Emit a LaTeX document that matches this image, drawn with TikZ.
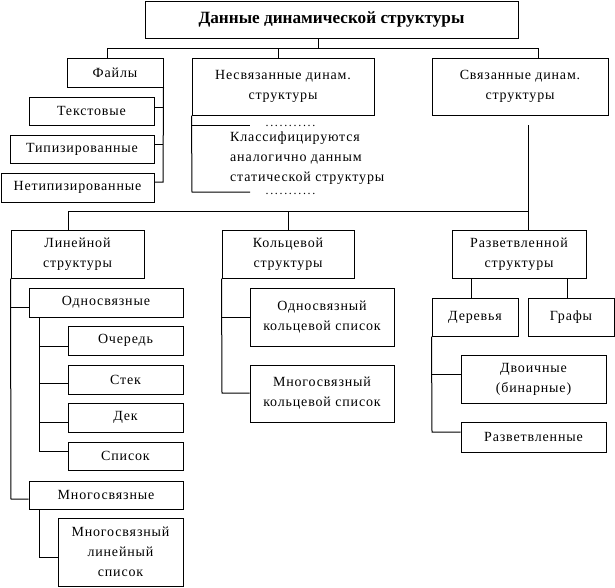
\documentclass[tikz,border=0pt]{standalone}
\usepackage{fontspec}
\setmainfont{Liberation Serif}[LetterSpace=6]
\newfontfamily\titlefont{Liberation Serif}[LetterSpace=0]
\begin{document}
\begin{tikzpicture}[x=1pt,y=-1pt,
  every node/.style={font=\fontsize{14}{20}\selectfont},
  bx/.style={draw,line width=1pt,inner sep=0pt,align=center},
  ln/.style={line width=1pt}]
\useasboundingbox (0,0) rectangle (615,587);
% top
\node[bx,minimum width=373pt,minimum height=37pt,font=\titlefont\fontsize{17.2}{20}\selectfont\bfseries] (top) at (331.5,19.5) {Данные динамической структуры};
\node[bx,minimum width=96pt,minimum height=29pt] (files) at (115,72.5) {Файлы};
\node[bx,minimum width=182pt,minimum height=57pt] (nesv) at (283,86.5) {Несвязанные динам.\\структуры};
\node[bx,minimum width=176pt,minimum height=57pt] (svyaz) at (520,86.5) {Связанные динам.\\структуры};
\node[bx,minimum width=125pt,minimum height=28pt] (txt) at (91.5,111) {Текстовые};
\node[bx,minimum width=144pt,minimum height=28pt] (tipiz) at (82,149) {Типизированные};
\node[bx,minimum width=153pt,minimum height=29pt] (netip) at (77.5,187.5) {Нетипизированные};
% classification text
\node[align=left,inner sep=0pt,anchor=west] (klass) at (230,158) {Классифицируются\\аналогично данным\\статической структуры};
\node[inner sep=0pt,anchor=base,font=\fontsize{12}{14}\selectfont\addfontfeatures{LetterSpace=14}] (dots1) at (290.5,126.5) {...........};
\node[inner sep=0pt,anchor=base,font=\fontsize{12}{14}\selectfont\addfontfeatures{LetterSpace=14}] (dots2) at (290.5,194) {...........};
% second level
\node[bx,minimum width=133pt,minimum height=48pt] (lin) at (77.5,254) {Линейной\\структуры};
\node[bx,minimum width=132pt,minimum height=48pt] (kol) at (288,254) {Кольцевой\\структуры};
\node[bx,minimum width=134pt,minimum height=48pt] (razv) at (519,254) {Разветвленной\\структуры};
\node[bx,minimum width=154pt,minimum height=29pt] (odn) at (106,302.5) {Односвязные};
\node[bx,minimum width=115pt,minimum height=29pt] (och) at (125.5,340.5) {Очередь};
\node[bx,minimum width=115pt,minimum height=29pt] (stek) at (125.5,379.5) {Стек};
\node[bx,minimum width=115pt,minimum height=29pt] (dek) at (125.5,417.5) {Дек};
\node[bx,minimum width=115pt,minimum height=28pt] (spis) at (125.5,456) {Список};
\node[bx,minimum width=154pt,minimum height=28pt] (mnog) at (106,495) {Многосвязные};
\node[bx,minimum width=125pt,minimum height=68pt] (mll) at (120.5,552) {Многосвязный\\линейный\\список};
\node[bx,minimum width=144pt,minimum height=58pt] (okl) at (322,317) {Односвязный\\кольцевой список};
\node[bx,minimum width=144pt,minimum height=57pt] (mkl) at (322,393.5) {Многосвязный\\кольцевой список};
\node[bx,minimum width=86pt,minimum height=38pt] (der) at (475,317) {Деревья};
\node[bx,minimum width=86pt,minimum height=38pt] (graf) at (571,317) {Графы};
\node[bx,minimum width=145pt,minimum height=48pt] (dvo) at (533.5,379) {Двоичные\\(бинарные)};
\node[bx,minimum width=145pt,minimum height=30pt] (razvl) at (533.5,437) {Разветвленные};
% connectors: top level
\coordinate (b1) at (318,48);
\coordinate (b1L) at (107,48);
\coordinate (b1M) at (278,48);
\coordinate (b1R) at (538,48);
\draw[ln] (top.south -| b1) -- (b1);
\draw[ln] (files.north -| b1L) -- (b1L) -- (b1R) -- (b1R |- svyaz.north);
\draw[ln] (b1M) -- (b1M |- nesv.north);
% files
\coordinate (f1) at (163,107);
\coordinate (f2) at (163,144);
\coordinate (f3) at (163,182);
\draw[ln] (files.south east) -- (f3) -- (f3 -| netip.east);
\draw[ln] (f1) -- (f1 -| txt.east);
\draw[ln] (f2) -- (f2 -| tipiz.east);
% nesv
\coordinate (n1) at (192,125);
\coordinate (n2) at (192,192);
\draw[ln] (nesv.south west) -- (n2) -- (250,192);
\draw[ln] (n1) -- (250,125);
% svyaz
\coordinate (s0) at (528,125);
\coordinate (s1) at (528,211);
\coordinate (s1L) at (68,211);
\coordinate (s1M) at (288,211);
\draw[ln] (s0) -- (s0 |- razv.north);
\draw[ln] (s1) -- (s1L) -- (s1L |- lin.north);
\draw[ln] (s1M) -- (s1M |- kol.north);
% linear
\coordinate (l1) at (11,307);
\coordinate (l2) at (11,499);
\draw[ln] (lin.south west) -- (l2) -- (l2 -| mnog.west);
\draw[ln] (l1) -- (l1 -| odn.west);
\coordinate (o1) at (39,346);
\coordinate (o2) at (39,383);
\coordinate (o3) at (39,422);
\coordinate (o4) at (39,451);
\draw[ln] (odn.south -| o1) -- (o4) -- (o4 -| spis.west);
\draw[ln] (o1) -- (o1 -| och.west);
\draw[ln] (o2) -- (o2 -| stek.west);
\draw[ln] (o3) -- (o3 -| dek.west);
\coordinate (m1) at (39,557);
\draw[ln] (mnog.south -| m1) -- (m1) -- (m1 -| mll.west);
% ring
\coordinate (k1) at (222,317);
\coordinate (k2) at (222,393);
\draw[ln] (kol.south west) -- (k2) -- (k2 -| mkl.west);
\draw[ln] (k1) -- (k1 -| okl.west);
% branched
\coordinate (r1) at (471,278);
\coordinate (r2) at (567,278);
\draw[ln] (r1) -- (r1 |- der.north);
\draw[ln] (r2) -- (r2 |- graf.north);
\coordinate (d1) at (432,374);
\coordinate (d2) at (432,432);
\draw[ln] (der.south west) -- (d2) -- (d2 -| razvl.west);
\draw[ln] (d1) -- (d1 -| dvo.west);
\end{tikzpicture}
\end{document}
